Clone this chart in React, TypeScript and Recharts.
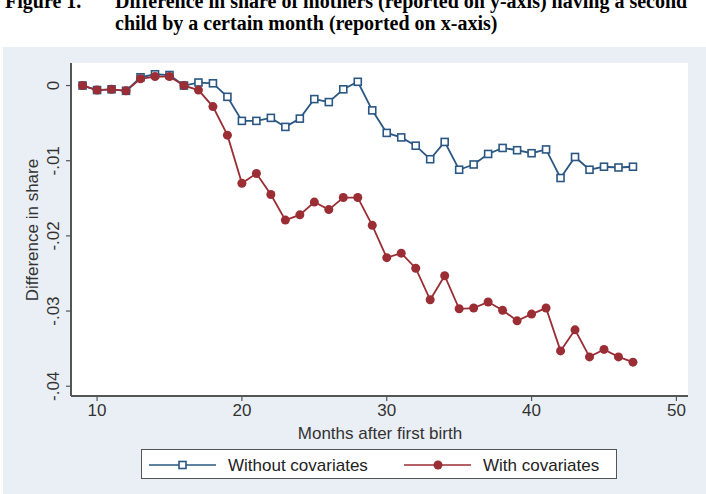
import { LineChart, Line, XAxis, YAxis, CartesianGrid, Label } from "recharts";

const months = [
  9, 10, 11, 12, 13, 14, 15, 16, 17, 18, 19, 20, 21, 22, 23, 24, 25, 26, 27, 28,
  29, 30, 31, 32, 33, 34, 35, 36, 37, 38, 39, 40, 41, 42, 43, 44, 45, 46, 47,
];

const withoutCovariates = [
  0, -0.0006, -0.0005, -0.0007, 0.0011, 0.0015, 0.0014, 0, 0.0004, 0.0003,
  -0.0015, -0.0047, -0.0047, -0.0043, -0.0055, -0.0044, -0.0018, -0.0022,
  -0.0005, 0.0005, -0.0033, -0.0063, -0.0069, -0.008, -0.0098, -0.0075,
  -0.0112, -0.0105, -0.0091, -0.0083, -0.0086, -0.009, -0.0085, -0.0123,
  -0.0095, -0.0112, -0.0108, -0.0109, -0.0108,
];

const withCovariates = [
  0, -0.0006, -0.0005, -0.0007, 0.0009, 0.0012, 0.0012, 0, -0.0006, -0.0028,
  -0.0066, -0.013, -0.0117, -0.0145, -0.0179, -0.0172, -0.0155, -0.0165,
  -0.0149, -0.0149, -0.0186, -0.0229, -0.0223, -0.0243, -0.0285, -0.0253,
  -0.0297, -0.0296, -0.0288, -0.0299, -0.0313, -0.0304, -0.0296, -0.0353,
  -0.0325, -0.0361, -0.0351, -0.0361, -0.0368,
];

const xTicks = [10, 20, 30, 40, 50];
const yTicks = [0, -0.01, -0.02, -0.03, -0.04];
const yTickLabels = ["0", "-.01", "-.02", "-.03", "-.04"];

const BLUE = "#2a5783";
const RED = "#9b2d35";
const BG = "#eaeff5";
const SANS = "'Liberation Sans', Arial, sans-serif";
const FS = 17;

const data = months.map((m, i) => ({
  month: m,
  without: withoutCovariates[i],
  with: withCovariates[i],
}));

// eslint-disable-next-line @typescript-eslint/no-explicit-any
function SquareDot(props: any) {
  const { cx, cy, index } = props;
  return (
    <rect
      key={`sq-${index}`}
      x={cx - 3.5}
      y={cy - 3.5}
      width={7}
      height={7}
      fill="#fff"
      stroke={BLUE}
      strokeWidth={1.6}
    />
  );
}

// eslint-disable-next-line @typescript-eslint/no-explicit-any
function YTick(props: any) {
  const { y, payload } = props;
  const idx = yTicks.indexOf(payload.value);
  const label = idx >= 0 ? yTickLabels[idx] : String(payload.value);
  return (
    <text
      x={51}
      y={y}
      transform={`rotate(-90, 51, ${y})`}
      textAnchor="middle"
      dominantBaseline="central"
      fontSize={FS}
      fontFamily={SANS}
      fill="#333"
    >
      {label}
    </text>
  );
}

function LegendBox() {
  return (
    <div
      style={{
        position: "absolute",
        left: 141,
        top: 449,
        width: 474,
        height: 28,
        background: "#fff",
        border: "1.5px solid #555",
      }}
    >
      <svg width={474} height={28} style={{ position: "absolute", left: 0, top: 0 }}>
        <line x1={7} x2={74} y1={15} y2={15} stroke={BLUE} strokeWidth={1.6} />
        <rect x={37} y={11.5} width={7} height={7} fill="#fff" stroke={BLUE} strokeWidth={1.6} />
        <text x={86} y={15} dominantBaseline="central" fontSize={FS} fontFamily={SANS} fill="#222">
          Without covariates
        </text>
        <line x1={262} x2={329} y1={15} y2={15} stroke={RED} strokeWidth={1.6} />
        <circle cx={296} cy={15} r={4.5} fill={RED} />
        <text x={341} y={15} dominantBaseline="central" fontSize={FS} fontFamily={SANS} fill="#222">
          With covariates
        </text>
      </svg>
    </div>
  );
}

export default function App() {
  const titleStyle = {
    position: "absolute" as const,
    fontFamily: "'Liberation Serif', 'Times New Roman', serif",
    fontWeight: 700,
    fontSize: 20,
    lineHeight: "22px",
    whiteSpace: "nowrap" as const,
    color: "#000",
  };
  return (
    <div
      style={{
        position: "absolute",
        left: 0,
        top: 0,
        width: 706,
        height: 494,
        background: "#fff",
        overflow: "hidden",
      }}
    >
      <div style={{ ...titleStyle, left: 5, top: -10 }}>Figure 1.</div>
      <div style={{ ...titleStyle, left: 115, top: -10 }}>
        Difference in share of mothers (reported on y-axis) having a second
      </div>
      <div style={{ ...titleStyle, left: 115, top: 12 }}>
        child by a certain month (reported on x-axis)
      </div>

      <div style={{ position: "absolute", left: 3, top: 47, width: 703, height: 447, background: BG }}>
        <LineChart
          width={703}
          height={447}
          data={data}
          margin={{ top: 16, right: 18, bottom: 68, left: 28 }}
        >
          <rect x={68} y={16} width={617} height={333} fill="#fff" />
          <CartesianGrid vertical={false} horizontal stroke="#edf1f4" strokeWidth={1.2} />
          <XAxis
            dataKey="month"
            type="number"
            domain={[8.2, 50.8]}
            ticks={xTicks}
            allowDataOverflow
            height={30}
            axisLine={{ stroke: "#555", strokeWidth: 2 }}
            tickLine={{ stroke: "#555", strokeWidth: 1.2 }}
            tickSize={5}
            tickMargin={3}
            tick={{ fontSize: FS, fontFamily: SANS, fill: "#333" }}
          >
            <Label
              content={() => (
                <text
                  x={377}
                  y={386}
                  textAnchor="middle"
                  dominantBaseline="central"
                  fontSize={FS}
                  fontFamily={SANS}
                  fill="#333"
                >
                  Months after first birth
                </text>
              )}
            />
          </XAxis>
          <YAxis
            type="number"
            domain={[-0.0413, 0.003]}
            ticks={yTicks}
            allowDataOverflow
            width={40}
            axisLine={{ stroke: "#555", strokeWidth: 2 }}
            tickLine={{ stroke: "#555", strokeWidth: 1.2 }}
            tickSize={5}
            tick={<YTick />}
          >
            <Label
              content={() => (
                <text
                  x={29}
                  y={183}
                  transform="rotate(-90, 29, 183)"
                  textAnchor="middle"
                  dominantBaseline="central"
                  fontSize={FS}
                  fontFamily={SANS}
                  fill="#333"
                >
                  Difference in share
                </text>
              )}
            />
          </YAxis>
          <Line
            type="linear"
            dataKey="without"
            stroke={BLUE}
            strokeWidth={1.8}
            dot={SquareDot}
            isAnimationActive={false}
          />
          <Line
            type="linear"
            dataKey="with"
            stroke={RED}
            strokeWidth={1.8}
            dot={{ r: 4.5, fill: RED, stroke: RED, strokeWidth: 0 }}
            isAnimationActive={false}
          />
        </LineChart>
      </div>
      <LegendBox />
    </div>
  );
}
